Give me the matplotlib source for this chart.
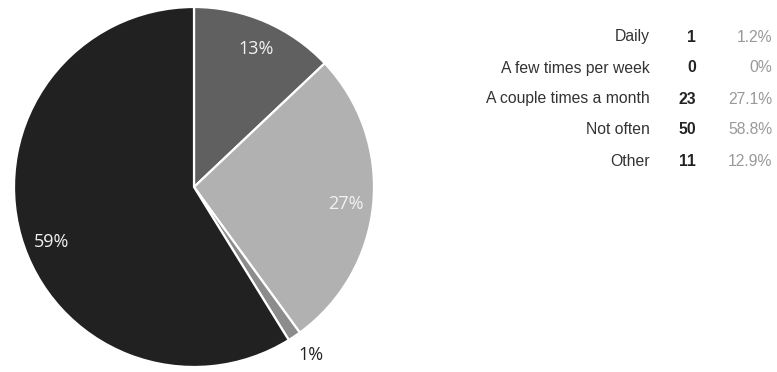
import matplotlib
matplotlib.use('Agg')
import matplotlib.pyplot as plt
import numpy as np

# legend table, in the order shown
labels = ['Daily', 'A few times per week', 'A couple times a month', 'Not often', 'Other']
counts = [1, 0, 23, 50, 11]
pcts = ['1.2%', '0%', '27.1%', '58.8%', '12.9%']

# pie, clockwise from 12 o'clock
pie_order = ['Other', 'A couple times a month', 'Daily', 'Not often']
pie_colors = ['#606060', '#b1b1b1', '#8c8c8c', '#212121']
pie_labels = ['13%', '27%', '1%', '59%']

W, H = 777, 372
fig = plt.figure(figsize=(W / 100, H / 100), dpi=100)

cx, cy, r = 194, 187, 180
ax = fig.add_axes([(cx - r) / W, (H - cy - r) / H, 2 * r / W, 2 * r / H])
vals = [counts[labels.index(n)] for n in pie_order]
wedges, _ = ax.pie(vals, colors=pie_colors, startangle=90, counterclock=False,
                   wedgeprops=dict(edgecolor='white', linewidth=1.6))
ax.set_xlim(-1, 1)
ax.set_ylim(-1, 1)
ax.set_aspect('equal')
ax.axis('off')

# label placement (distance from centre, angle nudge in degrees)
place = {'13%': (0.84, -1), '27%': (0.85, -1), '1%': (1.14, 1), '59%': (0.85, 5)}
for w, lab in zip(wedges, pie_labels):
    d, nudge = place[lab]
    mid = np.deg2rad((w.theta1 + w.theta2) / 2 + nudge)
    col = '#222222' if lab == '1%' else '#f2f2f2'
    ax.text(d * np.cos(mid), d * np.sin(mid), lab, ha='center', va='center',
            color=col, fontsize=13, family='Open Sans', clip_on=False)

# legend table
row0, step = 37, 31
for i, (lab, c, p) in enumerate(zip(labels, counts, pcts)):
    y = 1 - (row0 + i * step) / H
    fig.text(650 / W, y, lab, ha='right', va='center', fontsize=11.3,
             family='Liberation Sans', color='#333333')
    fig.text(696 / W, y, str(c), ha='right', va='center', fontsize=11.3,
             family='Liberation Sans', weight='bold', color='#222222')
    fig.text(772 / W, y, p, ha='right', va='center', fontsize=11.3,
             family='Liberation Sans', color='#999999')

fig.savefig('out.png', dpi=100)
